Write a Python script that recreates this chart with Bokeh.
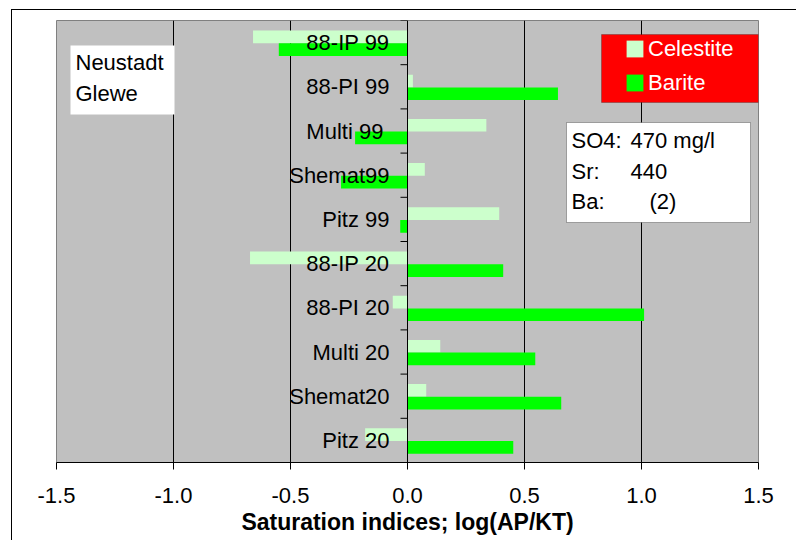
import numpy as np
from bokeh.plotting import figure
from bokeh.models import (FactorRange, Range1d, FixedTicker, NumeralTickFormatter,
                          Legend, LegendItem, BoxAnnotation, Label, ColumnDataSource)
from bokeh.transform import dodge
from bokeh.embed import file_html
from bokeh.resources import INLINE

# ---------------- data ----------------
categories = ["88-IP 99", "88-PI 99", "Multi  99", "Shemat99", "Pitz 99",
              "88-IP 20", "88-PI 20", "Multi 20", "Shemat20", "Pitz 20"]
celestite = [-0.66, 0.023, 0.337, 0.074, 0.392, -0.673, -0.063, 0.14, 0.08, -0.181]
barite = [-0.55, 0.643, -0.224, -0.284, -0.031, 0.409, 1.011, 0.546, 0.657, 0.452]
x_ticks = [-1.5, -1.0, -0.5, 0.0, 0.5, 1.0, 1.5]
grid_ticks = [-1.0, -0.5, 0.5, 1.0]
series_names = ["Celestite", "Barite"]
site_text = ["Neustadt", "Glewe"]
info_keys = ["SO4:", "Sr:", "Ba:"]
info_vals = ["470 mg/l", "440", "(2)"]

FONT = "Liberation Sans"
OX, OY = 12, 10          # page position of the canvas origin
FRAME_L, FRAME_T = 56, 20
FW, FH = 702, 442
ML, MT = FRAME_L - OX, FRAME_T - OY
MR, MB = 38, 78

source = ColumnDataSource(dict(cat=categories, celestite=celestite, barite=barite))

p = figure(frame_width=FW, frame_height=FH, output_backend="svg", toolbar_location=None,
           x_range=Range1d(-1.5, 1.5),
           y_range=FactorRange(factors=categories[::-1]),
           min_border_left=ML, min_border_right=MR, min_border_top=MT, min_border_bottom=MB)
p.margin = (OY - 1, 0, 0, OX - 1)
p.styles = {"border-left": "1px solid black", "border-top": "1px solid black"}

p.background_fill_color = "#C0C0C0"
p.border_fill_color = "white"
p.outline_line_color = "#808080"
p.outline_line_width = 1

r1 = p.hbar(y=dodge("cat", 0.13, range=p.y_range), left=0, right="celestite", height=0.287,
            source=source, fill_color="#CCFFCC", line_color=None)
r2 = p.hbar(y=dodge("cat", -0.157, range=p.y_range), left=0, right="barite", height=0.287,
            source=source, fill_color="#00FF00", line_color=None)

# category tick marks between categories, at x = 0
p.ray(x=0, y=dodge("cat", 0.5, range=p.y_range), length=7, length_units="screen",
      angle=np.pi, source=source, line_color="black", line_width=1)

# x axis
xa = p.xaxis[0]
xa.ticker = FixedTicker(ticks=x_ticks)
xa.formatter = NumeralTickFormatter(format="0.0")
xa.major_tick_out = 7
xa.major_tick_in = 0
xa.minor_tick_line_color = None
xa.axis_line_color = "black"
xa.major_tick_line_color = "black"
xa.major_label_text_font = FONT
xa.major_label_text_font_size = "22px"
xa.major_label_text_color = "black"
xa.major_label_standoff = 18
xa.axis_label = "Saturation indices; log(AP/KT)"
xa.axis_label_text_font = FONT
xa.axis_label_text_font_size = "23px"
xa.axis_label_text_font_style = "bold"
xa.axis_label_text_color = "black"
xa.axis_label_standoff = 3

# y axis at x = 0
ya = p.yaxis[0]
ya.fixed_location = 0
ya.major_tick_line_color = None
ya.major_tick_out = 0
ya.major_tick_in = 0
ya.axis_line_color = "black"
ya.major_label_text_font = FONT
ya.major_label_text_font_size = "22px"
ya.major_label_text_color = "black"
ya.major_label_standoff = 18

p.xgrid.ticker = FixedTicker(ticks=grid_ticks)
p.xgrid.grid_line_color = "black"
p.ygrid.visible = False

# helpers: page -> canvas / frame coordinates
def cx(px):
    return px - OX
def cy(py):
    return py - OY
FBOT = FRAME_T + FH
def fx(px):
    return px - FRAME_L
def fy(py):
    return FBOT - py

def box(l, r, t, b, **kw):
    return BoxAnnotation(left=cx(l), right=cx(r), top=cy(t), bottom=cy(b),
                         left_units="canvas", right_units="canvas",
                         top_units="canvas", bottom_units="canvas", **kw)

def label(px, py, text, color="black"):
    return Label(x=fx(px), y=fy(py), x_units="screen", y_units="screen", text=text,
                 text_font=FONT, text_font_size="22px", text_baseline="middle",
                 text_align="left", text_color=color)

# site box
p.add_layout(box(69, 173, 44, 113, fill_color="white", fill_alpha=1, line_color=None))
for t, yy in zip(site_text, [62, 93]):
    p.add_layout(label(75, yy, t))

# legend box
p.add_layout(box(600, 757, 33, 101, fill_color="#FF0000", fill_alpha=1,
                 line_color="#202020", line_width=1))
legend = Legend(items=[LegendItem(label=series_names[0], renderers=[r1]),
                       LegendItem(label=series_names[1], renderers=[r2])],
                location=(fx(624), fy(95.5)), orientation="vertical",
                background_fill_alpha=0, border_line_color=None,
                padding=0, margin=0, spacing=8,
                glyph_width=21, glyph_height=21, label_height=21, label_standoff=3,
                label_text_font=FONT, label_text_font_size="22px", label_text_color="white")
p.add_layout(legend)

# info box
p.add_layout(box(565, 749, 121, 221, fill_color="white", fill_alpha=1,
                 line_color="black", line_width=1))
for k, v, yy, vx in zip(info_keys, info_vals, [140, 171, 201], [630, 630, 649]):
    p.add_layout(label(571, yy, k))
    p.add_layout(label(vx, yy, v))

open("out.html", "w").write(file_html(p, INLINE))
